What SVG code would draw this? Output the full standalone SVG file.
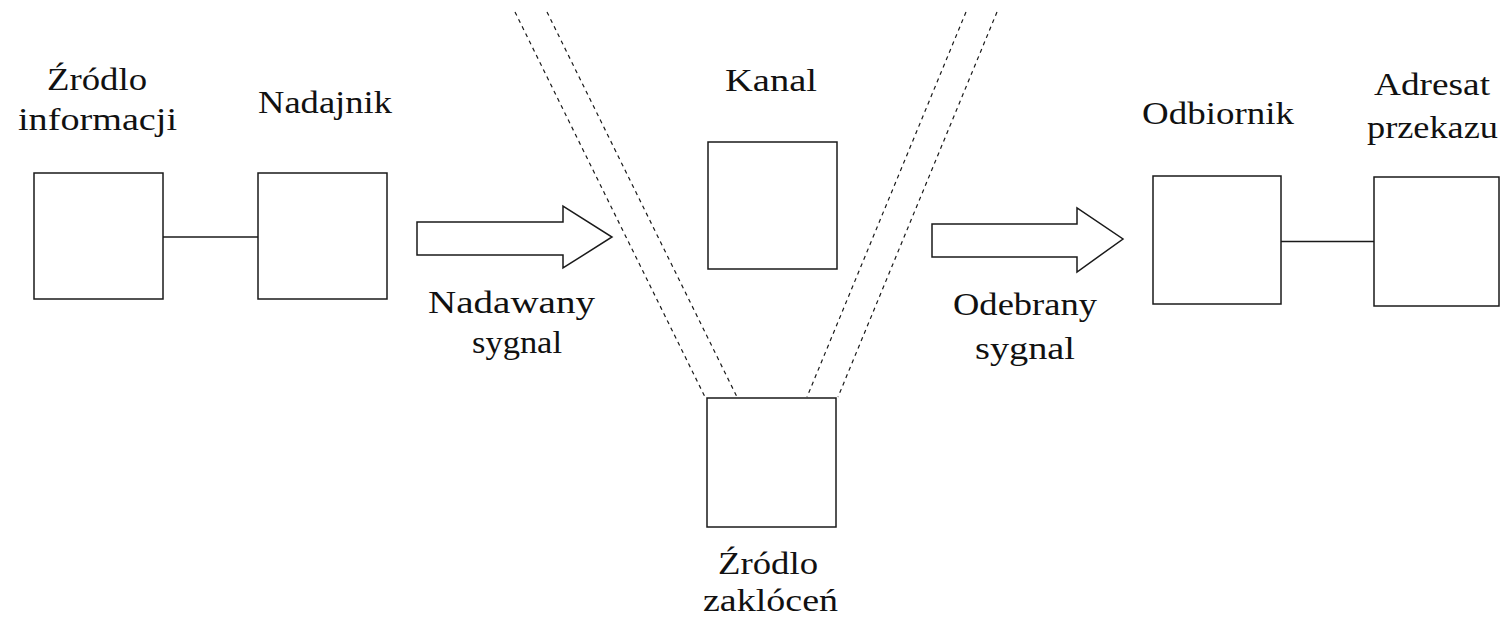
<svg xmlns="http://www.w3.org/2000/svg" width="1511" height="623" viewBox="0 0 1511 623">
<style>
.box{fill:#fff;stroke:#1a1a1a;stroke-width:1.5}
.ln{stroke:#1a1a1a;stroke-width:1.5;fill:none}
.dash{stroke:#1a1a1a;stroke-width:1.2;fill:none;stroke-dasharray:4 4}
.arr{fill:#fff;stroke:#1a1a1a;stroke-width:1.5;stroke-linejoin:miter}
.t{font-family:'Liberation Serif','DejaVu Serif','Times New Roman',Times,serif;font-size:31px;fill:#111}
</style>
<rect width="1511" height="623" fill="#fff"/>
<g id="connectors">
<line class="ln" x1="163" y1="237" x2="258" y2="237"/>
<line class="ln" x1="1281" y1="241.5" x2="1374" y2="241.5"/>
<polygon class="arr" points="417,222 563,222 563,206 612,237 563,268 563,255 417,255"/>
<polygon class="arr" points="932,224 1077,224 1077,208 1123,239 1077,272 1077,257 932,257"/>
<line class="dash" x1="515" y1="12" x2="705" y2="397"/>
<line class="dash" x1="547" y1="12" x2="737" y2="397"/>
<line class="dash" x1="966" y1="12" x2="807" y2="397"/>
<line class="dash" x1="997" y1="12" x2="838" y2="397"/>
</g>
<g id="zrodlo-informacji">
<rect class="box" x="34" y="173" width="129" height="126"/>
<text class="t" x="47" y="90" textLength="100" lengthAdjust="spacingAndGlyphs">Źródlo</text>
<text class="t" x="18" y="130" textLength="159" lengthAdjust="spacingAndGlyphs">informacji</text>
</g>
<g id="nadajnik">
<rect class="box" x="258" y="173" width="129" height="126"/>
<text class="t" x="258" y="113" textLength="134" lengthAdjust="spacingAndGlyphs">Nadajnik</text>
</g>
<g id="kanal">
<rect class="box" x="708" y="142" width="129" height="127"/>
<text class="t" x="725" y="91" textLength="92" lengthAdjust="spacingAndGlyphs">Kanal</text>
</g>
<g id="zrodlo-zaklocen">
<rect class="box" x="707" y="398" width="129" height="129"/>
<text class="t" x="718" y="574" textLength="100" lengthAdjust="spacingAndGlyphs">Źródlo</text>
<text class="t" x="703" y="611" textLength="135" lengthAdjust="spacingAndGlyphs">zaklóceń</text>
</g>
<g id="nadawany-sygnal">
<text class="t" x="428" y="313" textLength="167" lengthAdjust="spacingAndGlyphs">Nadawany</text>
<text class="t" x="472" y="353" textLength="90" lengthAdjust="spacingAndGlyphs">sygnal</text>
</g>
<g id="odebrany-sygnal">
<text class="t" x="953" y="315" textLength="144" lengthAdjust="spacingAndGlyphs">Odebrany</text>
<text class="t" x="975" y="359" textLength="100" lengthAdjust="spacingAndGlyphs">sygnal</text>
</g>
<g id="odbiornik">
<rect class="box" x="1153" y="176" width="128" height="128"/>
<text class="t" x="1142" y="124" textLength="152" lengthAdjust="spacingAndGlyphs">Odbiornik</text>
</g>
<g id="adresat-przekazu">
<rect class="box" x="1374" y="177" width="125" height="129"/>
<text class="t" x="1374" y="95" textLength="116" lengthAdjust="spacingAndGlyphs">Adresat</text>
<text class="t" x="1367" y="138" textLength="131" lengthAdjust="spacingAndGlyphs">przekazu</text>
</g>
</svg>
